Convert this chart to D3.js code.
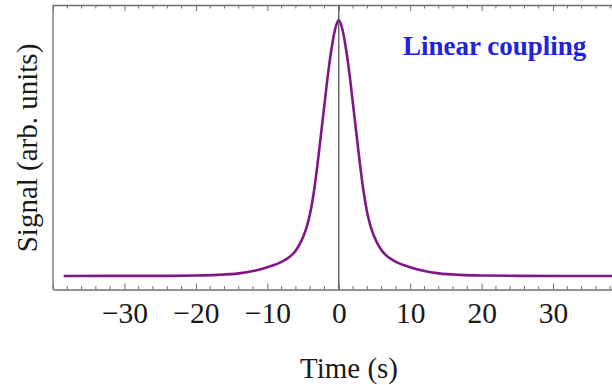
<!DOCTYPE html>
<html>
<head>
<meta charset="utf-8">
<script src="https://cdn.jsdelivr.net/npm/d3@7"></script>
<style>
  html, body { margin: 0; padding: 0; background: #fff; }
  svg { display: block; overflow: hidden; }
</style>
</head>
<body>
<svg id="svg" width="612" height="385"></svg>
<script>
// time axis (s) and signal (baseline 0, peak 1)
const timeS = [-38.5, -25, -20, -17, -14, -12, -10, -8, -7, -6.5, -6, -5.5, -5, -4.5, -4, -3.5, -3, -2.5, -2, -1.5, -1, -0.5, 0,
               0.5, 1, 1.5, 2, 2.5, 3, 3.5, 4, 4.5, 5, 5.5, 6, 6.5, 7, 8, 10, 12, 14, 17, 20, 25, 38.5];
const signal = [0, 0.0002, 0.0015, 0.004, 0.01, 0.019, 0.034, 0.055, 0.072, 0.084, 0.1, 0.122, 0.152, 0.19, 0.245, 0.325, 0.43, 0.55, 0.67, 0.79, 0.89, 0.965, 1.0,
                0.965, 0.89, 0.79, 0.67, 0.55, 0.43, 0.325, 0.245, 0.19, 0.152, 0.122, 0.1, 0.084, 0.072, 0.055, 0.034, 0.019, 0.01, 0.004, 0.0015, 0.0002, 0];

const majorTicks = [-40, -30, -20, -10, 0, 10, 20, 30, 40];
const tickLabels = ["", "\u221230", "\u221220", "\u221210", "0", "10", "20", "30", ""];
const minorTicks = d3.range(-40, 41, 2);

const xLabel = "Time (s)";
const yLabel = "Signal (arb. units)";
const note = "Linear coupling";

let svg = d3.select("svg");

const plotLeft = 53, plotRight = 624.5, plotTop = 5, plotBottom = 289.5;

var timeScale = d3.scaleLinear().domain([-40, 40]).range([plotLeft, plotRight]),
    signalScale = d3.scaleLinear().domain([-0.053, 1.059]).range([plotBottom, plotTop]);

const frameColor = "#6e6e6e";
const serif = "'Liberation Serif', 'DejaVu Serif', serif";

// bottom axis, ticks point inward
let bottomAxis = d3.axisBottom(timeScale)
    .tickValues(majorTicks)
    .tickSize(-6)
    .tickSizeOuter(0)
    .tickFormat((d, i) => tickLabels[i]);

let gBottom = svg.append("g")
    .attr("transform", "translate(0," + plotBottom + ")")
    .call(bottomAxis);
gBottom.select(".domain").attr("stroke", frameColor).attr("stroke-width", 1.3);
gBottom.selectAll(".tick line").attr("stroke", frameColor);
gBottom.selectAll(".tick text")
    .attr("y", 33.5)
    .attr("dy", 0)
    .style("font-family", serif)
    .style("font-size", "29.5px")
    .style("fill", "#1a1a1a");

// minor ticks, bottom
svg.append("g").selectAll("line")
    .data(minorTicks.filter(d => d % 10 !== 0))
    .join("line")
    .attr("x1", d => timeScale(d)).attr("x2", d => timeScale(d))
    .attr("y1", plotBottom).attr("y2", plotBottom - 3.5)
    .attr("stroke", frameColor);

// top frame with ticks pointing down
let topAxis = d3.axisTop(timeScale)
    .tickValues(majorTicks)
    .tickSize(-6)
    .tickSizeOuter(0)
    .tickFormat("");
let gTop = svg.append("g")
    .attr("transform", "translate(0," + plotTop + ")")
    .call(topAxis);
gTop.select(".domain").attr("stroke", frameColor).attr("stroke-width", 1.3);
gTop.selectAll(".tick line").attr("stroke", frameColor);

svg.append("g").selectAll("line")
    .data(minorTicks.filter(d => d % 10 !== 0))
    .join("line")
    .attr("x1", d => timeScale(d)).attr("x2", d => timeScale(d))
    .attr("y1", plotTop).attr("y2", plotTop + 3.5)
    .attr("stroke", frameColor);

// left frame line, no ticks
svg.append("line")
    .attr("x1", plotLeft).attr("x2", plotLeft)
    .attr("y1", plotTop).attr("y2", plotBottom)
    .attr("stroke", frameColor)
    .attr("stroke-width", 1.3);

// signal curve
let positions = timeS.map((t, i) => [t, signal[i]]);

var line = d3.line()
    .x(d => timeScale(d[0]))
    .y(d => signalScale(d[1]))
    .curve(d3.curveMonotoneX);

svg.append("path")
    .datum(positions)
    .attr("d", line)
    .style("fill", "none")
    .style("stroke", "#7f1787")
    .style("stroke-width", "2.6");

// vertical line at t = 0
svg.append("line")
    .attr("x1", timeScale(0)).attr("x2", timeScale(0))
    .attr("y1", plotTop).attr("y2", plotBottom)
    .attr("stroke", "#555")
    .attr("stroke-width", 1.3);

// axis titles
svg.append("text")
    .attr("x", 349)
    .attr("y", 378)
    .attr("text-anchor", "middle")
    .style("font-family", serif)
    .style("font-size", "29px")
    .style("fill", "#1a1a1a")
    .text(xLabel);

svg.append("text")
    .attr("transform", "translate(37,148) rotate(-90)")
    .attr("text-anchor", "middle")
    .style("font-family", serif)
    .style("font-size", "29px")
    .style("fill", "#1a1a1a")
    .text(yLabel);

// annotation
svg.append("text")
    .attr("x", 403)
    .attr("y", 55)
    .style("font-family", serif)
    .style("font-weight", "bold")
    .style("font-size", "27px")
    .style("fill", "#2121e0")
    .text(note);
</script>
</body>
</html>
